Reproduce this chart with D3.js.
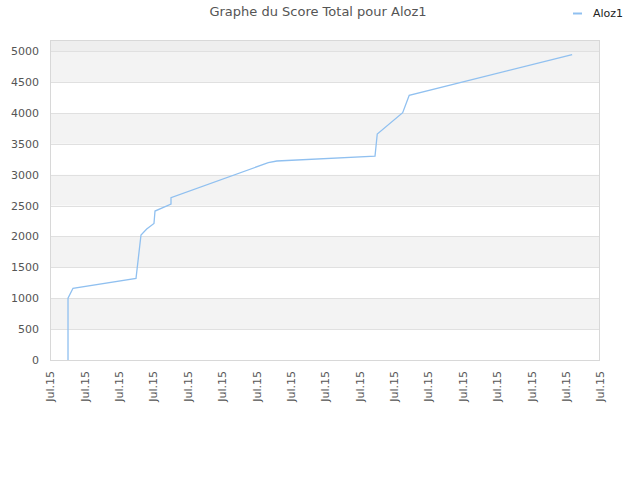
<!DOCTYPE html>
<html><head><meta charset="utf-8">
<script src="https://cdn.jsdelivr.net/npm/d3@7"></script>
<style>body{margin:0;background:#fff}svg{display:block;font-family:"DejaVu Sans",sans-serif}</style>
</head><body><svg id="c" width="640" height="480"></svg>
<script>
const title = "Graphe du Score Total pour Aloz1";
const seriesName = "Aloz1";
const xTickLabels = Array(17).fill("Jul.15");
const yTicks = [0,500,1000,1500,2000,2500,3000,3500,4000,4500,5000];
// x positions in tick-index units, y = score
const xs = [0.524,0.524,0.669,2.502,2.647,2.813,3.025,3.055,3.52,3.52,6.35,6.60,9.455,9.52,10.26,10.45,15.19];
const ys = [0,1000,1160,1320,2023,2120,2210,2410,2524,2627,3193,3220,3300,3657,4002,4283,4940];

const svg = d3.select("#c");
const L=50,R=600,T=40,B=360;
const x = d3.scaleLinear().domain([0,16]).range([L,R]);
const y = d3.scaleLinear().domain([0,5000]).range([B,51]);
const yTop = y.invert(T);

// bands
const bands = [[5000,yTop,"#eeeeee"]];
for(let i=0;i<10;i++){ bands.push([i*500,(i+1)*500, i%2===1?"#f3f3f3":"#ffffff"]); }
svg.append("g").selectAll("rect").data(bands).join("rect")
  .attr("x",L).attr("width",R-L)
  .attr("y",d=>y(d[1])).attr("height",d=>y(d[0])-y(d[1]))
  .attr("fill",d=>d[2]);

// grid
svg.append("g").selectAll("line").data(yTicks).join("line")
  .attr("x1",L).attr("x2",R).attr("y1",d=>Math.round(y(d))+0.5).attr("y2",d=>Math.round(y(d))+0.5)
  .attr("stroke","#e0e0e0");

// border
svg.append("rect").attr("x",L+0.5).attr("y",T+0.5).attr("width",R-L-1).attr("height",B-T)
  .attr("fill","none").attr("stroke","#d8d8d8");

// y axis
const ya = svg.append("g").attr("transform",`translate(${L},0)`)
  .call(d3.axisLeft(y).tickValues(yTicks).tickSize(0).tickPadding(11).tickFormat(d3.format("d")));
ya.select(".domain").remove();
ya.selectAll("text").attr("fill","#555").attr("font-size","11px").attr("font-family","DejaVu Sans");

// x axis
const xa = svg.append("g").attr("transform",`translate(0,${B})`)
  .call(d3.axisBottom(x).tickValues(d3.range(17)).tickSize(0).tickFormat(i=>xTickLabels[i]));
xa.select(".domain").remove();
xa.selectAll("text").attr("fill","#555").attr("font-size","11px").attr("font-family","DejaVu Sans")
  .attr("transform","rotate(-90)").attr("text-anchor","end").attr("dx","-11px").attr("dy","0.35em").attr("y",0).attr("x",0);

// line
const data = xs.map((v,i)=>[v,ys[i]]);
svg.append("path").datum(data)
  .attr("d",d3.line().x(d=>x(d[0])).y(d=>y(d[1])))
  .attr("fill","none").attr("stroke","#90c0f0").attr("stroke-width",1.3);

// title
svg.append("text").attr("x",318).attr("y",16).attr("text-anchor","middle")
  .attr("font-size","13px").attr("fill","#555").text(title);

// legend
svg.append("line").attr("x1",573).attr("x2",582).attr("y1",13.5).attr("y2",13.5).attr("stroke","#90c0f0").attr("stroke-width",2);
svg.append("text").attr("x",593).attr("y",17).attr("font-size","11px").attr("fill","#222").text(seriesName);
</script></body></html>
